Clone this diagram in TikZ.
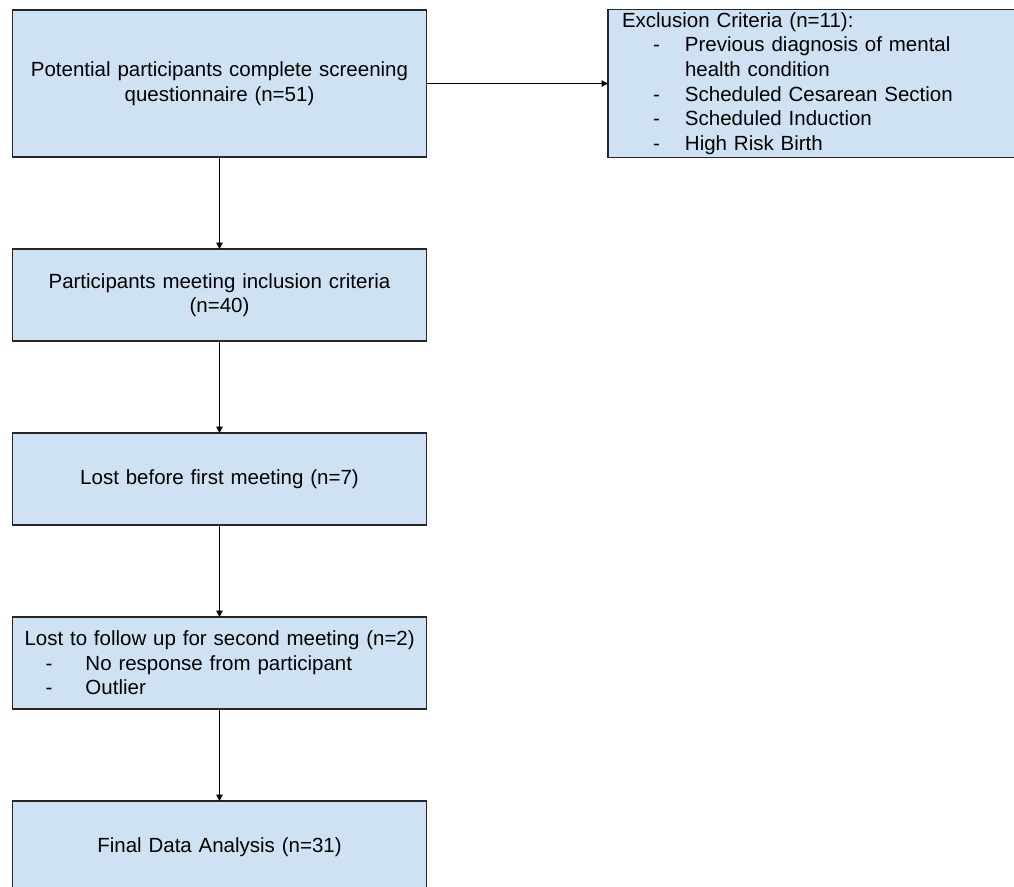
\documentclass[tikz,border=0pt]{standalone}
\usepackage{fontspec}
\setmainfont{Liberation Sans}
\usetikzlibrary{positioning,arrows.meta}
\definecolor{boxblue}{HTML}{CFE2F3}
\tikzset{
    flowbox/.style={draw=black!85,fill=boxblue,line width=1.1pt,inner sep=0pt,outer sep=0pt,minimum width=414pt,minimum height=92pt,text width=390pt,align=center,font=\fontsize{20.5}{24.6}\selectfont},
    flowarrow/.style={line width=1.1pt,-{Triangle[length=6.5pt,width=6.5pt]}}
}

\begin{document}
\begin{tikzpicture}
\useasboundingbox (0,0) rectangle (1014pt,-886pt);
\node[flowbox,minimum height=147pt] (screen) at (219.5pt,-83.5pt) {Potential participants complete screening\\questionnaire (n=51)};
\node[flowbox,minimum width=410pt,minimum height=147.5pt,text width=382pt,align=left,right=181.5pt of screen] (excl) {Exclusion Criteria (n=11):\\
\hspace*{31pt}\makebox[32pt][l]{-}Previous diagnosis of mental\\
\hspace*{63pt}health condition\\
\hspace*{31pt}\makebox[32pt][l]{-}Scheduled Cesarean Section\\
\hspace*{31pt}\makebox[32pt][l]{-}Scheduled Induction\\
\hspace*{31pt}\makebox[32pt][l]{-}High Risk Birth};
\node[flowbox,below=92pt of screen] (incl) {Participants meeting inclusion criteria\\(n=40)};
\node[flowbox,below=92pt of incl] (lost) {Lost before first meeting (n=7)};
\node[flowbox,align=left,below=92pt of lost] (follow) {\mbox{Lost to follow up for second meeting (n=2)}\\
\hspace*{21pt}\makebox[40pt][l]{-}No response from participant\\
\hspace*{21pt}\makebox[40pt][l]{-}Outlier};
\node[flowbox,below=92pt of follow] (final) {Final Data Analysis (n=31)};
\draw[flowarrow] (screen) -- (excl);
\draw[flowarrow] (screen) -- (incl);
\draw[flowarrow] (incl) -- (lost);
\draw[flowarrow] (lost) -- (follow);
\draw[flowarrow] (follow) -- (final);
\end{tikzpicture}
\end{document}
